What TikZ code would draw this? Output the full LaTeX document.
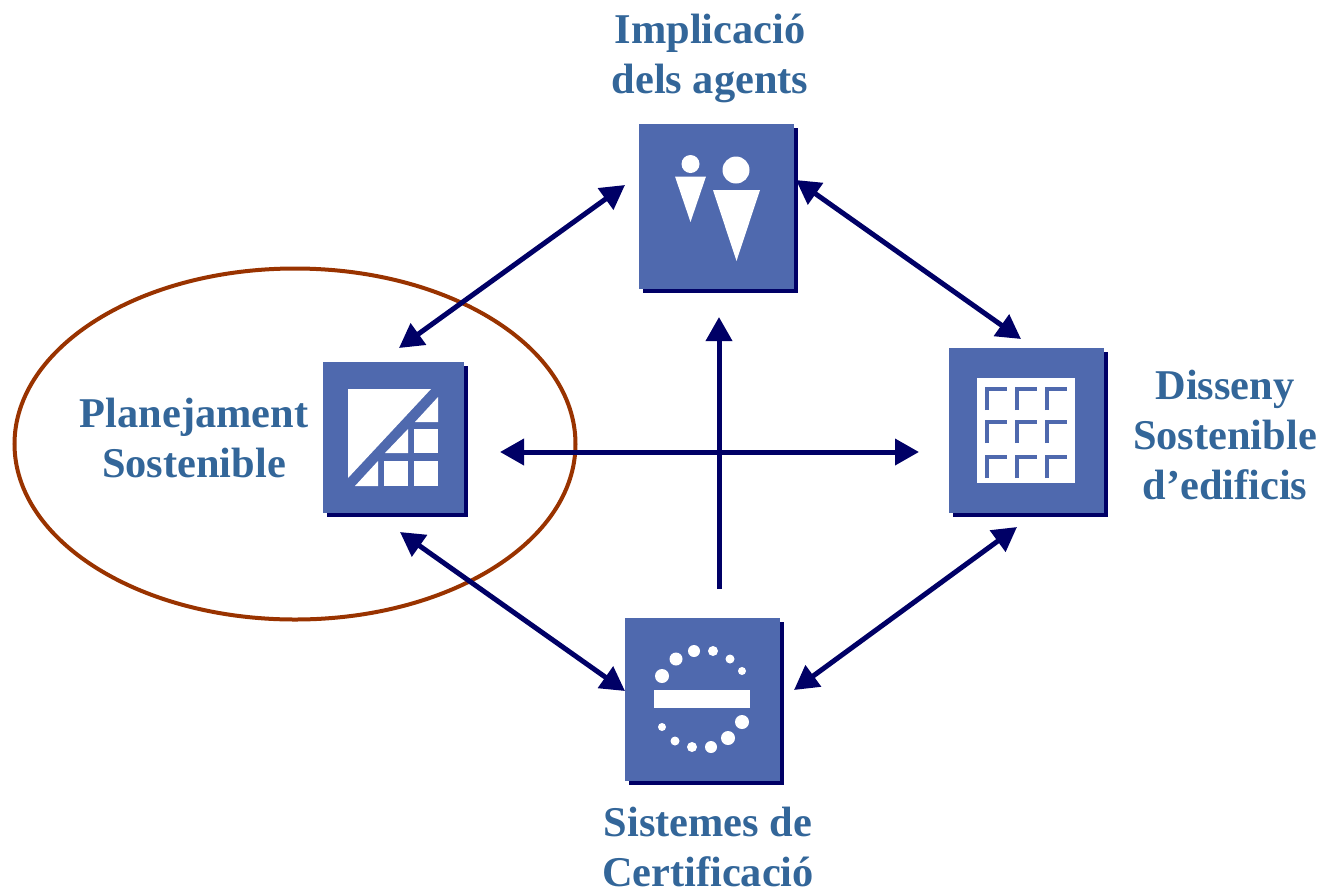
\documentclass[tikz,border=0pt]{standalone}
\usepackage{fontspec}
\setmainfont{Liberation Serif}
\usetikzlibrary{arrows.meta}
\definecolor{boxblue}{HTML}{4F69AE}
\definecolor{navy}{HTML}{000066}
\definecolor{labelblue}{HTML}{336699}
\definecolor{rust}{HTML}{993300}
\tikzset{
  x=0.5pt,y=-0.5pt,
  conn/.style={draw=navy,line width=2.5pt,{Triangle[length=12pt,width=12.8pt]}-{Triangle[length=12pt,width=12.8pt]}},
  connone/.style={draw=navy,line width=2.5pt,-{Triangle[length=12pt,width=12.8pt]}},
  lab/.style={font=\bfseries\fontsize{21.2}{25}\selectfont,text=labelblue,align=center,inner sep=0pt},
  wh/.style={fill=white,draw=none},
}
\newcommand{\iconrect}[5]{%
  \fill[navy] (#2+4,#3+4) rectangle (#4+4,#5+4);
  \node[fill=boxblue,inner sep=0pt,minimum width=#4*0.5pt-#2*0.5pt,minimum height=#5*0.5pt-#3*0.5pt] (#1) at ({(#2+#4)/2},{(#3+#5)/2}) {};
}
\begin{document}
\begin{tikzpicture}
\useasboundingbox (0,0) rectangle (1324,890);
% boxes
\iconrect{top}{639}{124}{794}{289}
\iconrect{left}{323}{362}{464}{513}
\iconrect{right}{949}{348}{1104}{513}
\iconrect{bottom}{625}{618}{780}{781}
% people icon
\fill[wh] (690.5,164) circle (9);
\fill[wh] (736,170) circle (13.5);
\fill[wh] (675,176.5) -- (706,176.5) -- (690.5,222) -- cycle;
\fill[wh] (713,190) -- (760,190) -- (736.5,261) -- cycle;
% planning icon
\fill[wh] (348,389) -- (431,389) -- (348,478) -- cycle;
\fill[wh] (438,397) -- (438,422) -- (415,422) -- cycle;
\fill[wh] (414,429) rectangle (438,453);
\fill[wh] (408,429) -- (408,453) -- (385,453) -- cycle;
\fill[wh] (414,461) rectangle (438,486);
\fill[wh] (384,461) rectangle (408,486);
\fill[wh] (378,461) -- (378,486) -- (355,486) -- cycle;
% building icon
\fill[wh] (977,378) rectangle (1075,483);
\foreach \cx in {987,1017,1047}
  \foreach \cy in {389,422,457}
    \draw[boxblue,line width=2pt] (\cx,\cy+21) -- (\cx,\cy) -- (\cx+20,\cy);
% certification icon
\fill[wh] (654,690) rectangle (750,708);
\foreach \px/\py/\pr in {662/676/7,676/659/6.5,694/651/6,713/651/5,730/659/4.5,742/671/4,
  662/727/4,675/741/4.5,692/747/5,711/747/6,728/738/7,742/722/7}
  \fill[wh] (\px,\py) circle (\pr);
% ellipse
\draw[rust,line width=2pt] (295,444) ellipse [x radius=280.5,y radius=175.5];
% connectors
\coordinate (tl1) at (399,348);
\coordinate (tl2) at (625,185);
\coordinate (tr1) at (796,180);
\coordinate (tr2) at (1021,339);
\coordinate (bl1) at (400,532);
\coordinate (bl2) at (625,691);
\coordinate (br1) at (794,690);
\coordinate (br2) at (1017,527);
\coordinate (hl) at (500,452);
\coordinate (hr) at (919,452);
\coordinate (vb) at (719,589);
\coordinate (vt) at (719,317);
\draw[conn] (tl1) -- (tl2);
\draw[conn] (tr1) -- (tr2);
\draw[conn] (bl1) -- (bl2);
\draw[conn] (br1) -- (br2);
\draw[conn] (hl) -- (hr);
\draw[connone] (vb) -- (vt);
% labels
\node[lab] (l1) at (710,58) {Implicació\\dels agents};
\node[lab] (l2) at (194,438) {Planejament\\Sostenible};
\node[lab] (l3) at (1225,435) {Disseny\\Sostenible\\d’edificis};
\node[lab] (l4) at (708,847) {Sistemes de\\Certificació};
\end{tikzpicture}
\end{document}
